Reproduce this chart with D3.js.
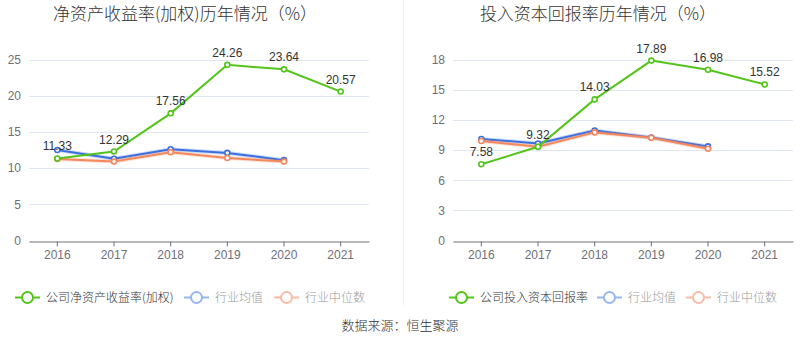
<!DOCTYPE html>
<html><head><meta charset="utf-8">
<script src="https://cdn.jsdelivr.net/npm/d3@7"></script>
<style>body{margin:0;background:#fff}svg{display:block}</style>
</head><body><svg id="c" width="800" height="358"></svg>
<script>
const years = ["2016","2017","2018","2019","2020","2021"];
const roeCompany = [11.33, 12.29, 17.56, 24.26, 23.64, 20.57];
const roeAvg = [12.5, 11.3, 12.6, 12.1, 11.1];
const roeMedian = [11.25, 10.9, 12.2, 11.4, 10.9];
const roeTicks = [0, 5, 10, 15, 20, 25];
const roicCompany = [7.58, 9.32, 14.03, 17.89, 16.98, 15.52];
const roicAvg = [10.09, 9.65, 10.94, 10.25, 9.36];
const roicMedian = [9.89, 9.33, 10.75, 10.22, 9.13];
const roicTicks = [0, 3, 6, 9, 12, 15, 18];

const GREEN = "#52c41a", BLUE = "#3b6fe0", ORANGE = "#f5875c";
const FONT = "'Liberation Sans', 'Noto Sans CJK SC', sans-serif";
const CJK = "'Noto Sans CJK SC', sans-serif";
const svg = d3.select("#c");

svg.append("line").attr("x1",403.5).attr("x2",403.5).attr("y1",0).attr("y2",305)
  .attr("stroke","#eeeeee").attr("stroke-width",1);

function panel(opt){
  const x = d3.scaleBand().domain(years).range([opt.x0, opt.x1]);
  const y = d3.scaleLinear().domain([0, opt.ymax]).range([240.5, 59.5]);
  const g = svg.append("g");
  g.append("text").attr("x",opt.titleX).attr("y",20).attr("text-anchor","middle")
    .attr("font-family",CJK).attr("font-weight",300).attr("font-size",17).attr("fill","#333").text(opt.title);
  // grid
  g.selectAll(".grid").data(opt.ticks.filter(t=>t>0)).join("line")
    .attr("x1",opt.x0).attr("x2",opt.x1)
    .attr("y1",d=>Math.round(y(d))+0.5).attr("y2",d=>Math.round(y(d))+0.5)
    .attr("stroke","#e0e6f1").attr("stroke-width",1);
  // y labels
  const ya = d3.axisLeft(y).tickValues(opt.ticks).tickSize(0).tickPadding(8);
  const yg = g.append("g").attr("transform",`translate(${opt.x0},0)`).call(ya);
  yg.select(".domain").remove();
  yg.selectAll("text").attr("font-family",FONT).attr("font-size",12).attr("fill","#6e7079");
  // x axis
  const xa = d3.axisBottom(x).tickSizeInner(5).tickSizeOuter(0).tickPadding(4);
  const xg = g.append("g").attr("transform",`translate(0,${Math.round(y(0))+0.5})`).call(xa);
  xg.select(".domain").attr("stroke","#6e7079");
  xg.selectAll(".tick line").attr("stroke","#6e7079");
  xg.selectAll("text").attr("font-family",FONT).attr("font-size",12).attr("fill","#6e7079");
  const cx = (d,i)=>x(years[i])+x.bandwidth()/2;
  const line = d3.line().x(cx).y(d=>y(d));
  function series(vals,color,shadow){
    if(shadow){
      g.append("path").attr("d",line(vals)).attr("fill","none").attr("stroke",color)
        .attr("stroke-opacity",0.25).attr("stroke-width",4);
    }
    g.append("path").attr("d",line(vals)).attr("fill","none").attr("stroke",color).attr("stroke-width",2);
    g.selectAll(null).data(vals).join("circle").attr("cx",cx).attr("cy",d=>y(d)).attr("r",2.5)
      .attr("fill","#fff").attr("stroke",color).attr("stroke-width",1.6);
  }
  series(opt.avg,BLUE,true);
  series(opt.median,ORANGE,true);
  series(opt.company,GREEN,false);
  g.selectAll(null).data(opt.company).join("text").attr("x",cx).attr("y",d=>y(d)-8)
    .attr("text-anchor","middle").attr("font-family",FONT).attr("font-size",12).attr("fill","#333")
    .text(d=>d.toFixed(2));
  // legend
  const items = [
    {x:opt.legX[0], label:opt.legend, color:GREEN, tc:"#333"},
    {x:opt.legX[1], label:"行业均值", color:"#97b6f1", tc:"#999"},
    {x:opt.legX[2], label:"行业中位数", color:"#f8bca4", tc:"#999"}
  ];
  const ly = 297.5;
  items.forEach(it=>{
    g.append("line").attr("x1",it.x).attr("x2",it.x+25).attr("y1",ly).attr("y2",ly)
      .attr("stroke",it.color).attr("stroke-width",2);
    g.append("circle").attr("cx",it.x+12.5).attr("cy",ly).attr("r",5.5).attr("fill","#fff")
      .attr("stroke",it.color).attr("stroke-width",2);
    g.append("text").attr("x",it.x+31).attr("y",ly+4.5).attr("font-family",CJK).attr("font-weight",300)
      .attr("font-size",12).attr("fill",it.tc).text(it.label);
  });
}

panel({x0:29, x1:369, ymax:25, ticks:roeTicks, title:"净资产收益率(加权)历年情况（%）", titleX:185,
  company:roeCompany, avg:roeAvg, median:roeMedian, legend:"公司净资产收益率(加权)", legX:[15,184,274]});
panel({x0:453, x1:793, ymax:18, ticks:roicTicks, title:"投入资本回报率历年情况（%）", titleX:598,
  company:roicCompany, avg:roicAvg, median:roicMedian, legend:"公司投入资本回报率", legX:[449,597,686]});

svg.append("text").attr("x",400).attr("y",330).attr("text-anchor","middle").attr("font-family",CJK)
  .attr("font-weight",300).attr("font-size",13).attr("fill","#333").text("数据来源：恒生聚源");
</script></body></html>
